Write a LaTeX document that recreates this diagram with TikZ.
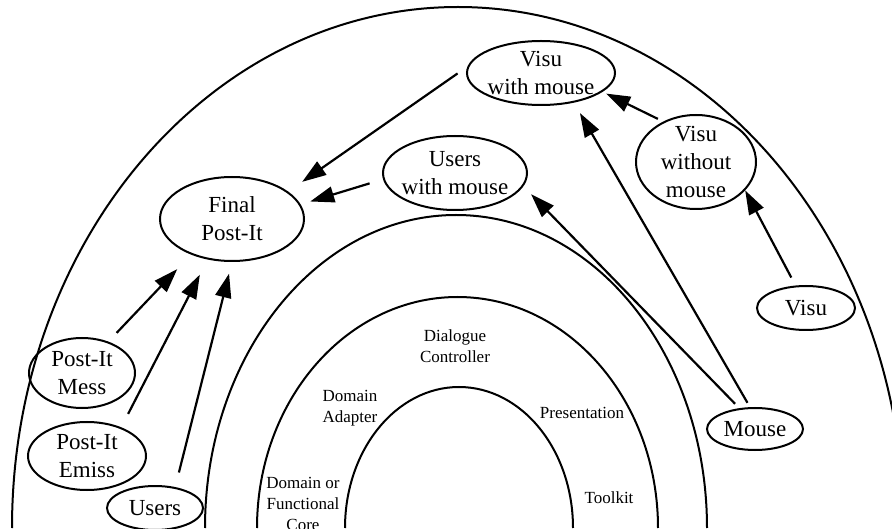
\documentclass[tikz,border=0pt]{standalone}
\usepackage{fontspec}
\setmainfont{Liberation Serif}
\usetikzlibrary{arrows.meta}
\usetikzlibrary{shapes.geometric}

\tikzset{
	oval/.style={ellipse, draw, line width=2pt, inner sep=-8pt, align=center,
		font=\fontsize{23}{28}\selectfont},
	layer/.style={inner sep=0pt, align=center, font=\fontsize{17}{21}\selectfont},
	ring/.style={line width=2pt},
	flow/.style={-{Triangle[length=24pt,width=16pt]}, line width=2.2pt}
}

\begin{document}
\begin{tikzpicture}[x=1pt, y=1pt]
	\useasboundingbox (0,0) rectangle (892,528);
	\clip (0,0) rectangle (892,528);

	% the four layers
	\draw[ring] (12,0) arc[start angle=180, end angle=0, x radius=446, y radius=521];
	\draw[ring] (205,0) arc[start angle=180, end angle=0, x radius=251, y radius=313];
	\draw[ring] (257,0) arc[start angle=180, end angle=0, x radius=200.5, y radius=231];
	\draw[ring] (345,0) arc[start angle=180, end angle=0, x radius=114, y radius=141];

	\node[layer] (dialogue) at (455,181.5) {Dialogue\\Controller};
	\node[layer] (adapter) at (350,120) {Domain\\Adapter};
	\node[layer] (present) at (582,115) {Presentation};
	\node[layer] (toolkit) at (609,30) {Toolkit};
	\node[layer] (core) at (303,24) {Domain or\\Functional\\Core};

	% components
	\node[oval, minimum width=144pt, minimum height=84pt] (final) at (232,309) {Final\\Post-It};
	\node[oval, minimum width=148pt, minimum height=64pt] (vwm) at (541,455) {Visu\\with mouse};
	\node[oval, minimum width=144pt, minimum height=74pt] (uwm) at (455,355) {Users\\with mouse};
	\node[oval, minimum width=120pt, minimum height=94pt] (vwo) at (696,366) {Visu\\without\\mouse};
	\node[oval, minimum width=98pt, minimum height=44pt] (visu) at (806,220) {Visu};
	\node[oval, minimum width=96pt, minimum height=42pt] (mouse) at (755,99) {Mouse};
	\node[oval, minimum width=106pt, minimum height=70pt] (mess) at (82,155) {Post-It\\Mess};
	\node[oval, minimum width=118pt, minimum height=68pt] (emiss) at (87,72) {Post-It\\Emiss};
	\node[oval, minimum width=96pt, minimum height=44pt] (users) at (155,20) {Users};

	% dependencies
	\draw[flow, shorten <=12pt, shorten >=17pt] (vwm.175) -- (final.26);
	\draw[flow, shorten <=14pt, shorten >=10pt] (uwm.185) -- (final.12);
	\draw[flow, shorten <=6pt, shorten >=4pt] (vwo.129) -- (vwm.343);
	\draw[flow, shorten <=5pt, shorten >=12pt] (mouse.103) -- (vwm.318);
	\draw[flow, shorten <=6pt, shorten >=11pt] (mouse.127) -- (uwm.349);
	\draw[flow, shorten <=9pt, shorten >=0pt] (visu.115) -- (vwo.330);
	\draw[flow, shorten <=12pt, shorten >=20pt] (mess.50) -- (final.221);
	\draw[flow, shorten <=15pt, shorten >=17pt] (emiss.40) -- (final.239);
	\draw[flow, shorten <=15pt, shorten >=12pt] (users.46) -- (final.270);
\end{tikzpicture}
\end{document}
